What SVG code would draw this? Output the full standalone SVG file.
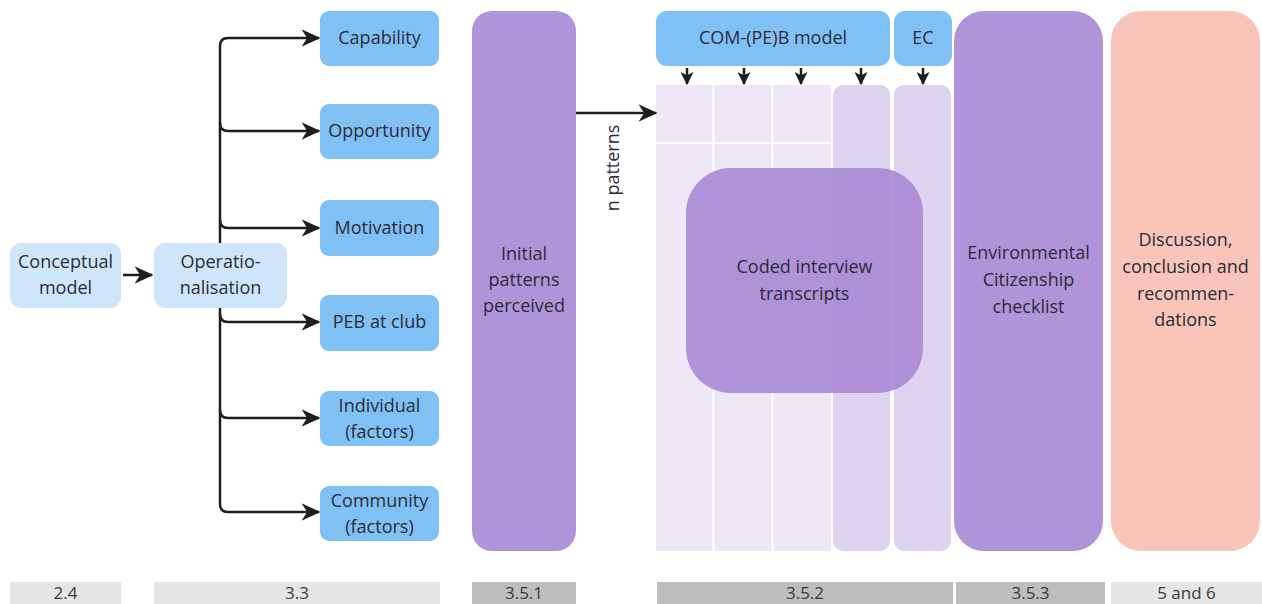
<svg xmlns="http://www.w3.org/2000/svg" width="1262" height="604" viewBox="0 0 1262 604">
  <defs>
    <style>
      text { font-family: "Open Sans", "Noto Sans", "Liberation Sans", sans-serif; font-size: 18px; fill: #2b2b38; text-anchor: middle; }
      .pale { fill: #cfe6fa; }
      .blue { fill: #80c1f5; }
      .purple { fill: #b094d9; }
      .peach { fill: #f9c5bb; }
      .cell { fill: #ede7f6; }
      .cell2 { fill: #ddd3ee; }
      .sec-light { fill: #e5e5e5; }
      .sec-dark { fill: #bdbdbd; }
      .sec { font-size: 17px; fill: #3a3a3a; }
      .edge { fill: none; stroke: #1e1e1e; stroke-width: 2.5; stroke-linejoin: round; }
    </style>
    <marker id="arrow" viewBox="0 0 12 12" refX="11" refY="6" markerWidth="19" markerHeight="19" markerUnits="userSpaceOnUse" orient="auto">
      <path d="M0,0.5 L12,6 L0,11.5 L3.5,6 z" fill="#1e1e1e"/>
    </marker>
    <marker id="arrow-s" viewBox="0 0 12 12" refX="11" refY="6" markerWidth="13" markerHeight="13" markerUnits="userSpaceOnUse" orient="auto">
      <path d="M0,0 L12,6 L0,12 L3,6 z" fill="#1e1e1e"/>
    </marker>
  </defs>

  <!-- coding grid behind the transcripts -->
  <g id="coding-grid">
    <rect class="cell" x="656" y="85" width="175" height="466"/>
    <path d="M713.5 85 V551 M772.5 85 V551 M656 143 H831" stroke="#ffffff" stroke-width="2" fill="none"/>
    <rect class="cell2" x="833" y="85" width="57" height="466" rx="10"/>
    <rect class="cell2" x="894" y="85" width="57" height="466" rx="10"/>
  </g>

  <!-- connectors -->
  <g id="connectors">
    <path class="edge" d="M123 275 H152" marker-end="url(#arrow)"/>
    <path class="edge" d="M220 250 V46 Q220 38 228 38 H319" marker-end="url(#arrow)"/>
    <path class="edge" d="M220 123 Q220 131 228 131 H319" marker-end="url(#arrow)"/>
    <path class="edge" d="M220 220 Q220 228 228 228 H319" marker-end="url(#arrow)"/>
    <path class="edge" d="M220 300 V504 Q220 512 228 512 H319" marker-end="url(#arrow)"/>
    <path class="edge" d="M220 314 Q220 322 228 322 H319" marker-end="url(#arrow)"/>
    <path class="edge" d="M220 410 Q220 418 228 418 H319" marker-end="url(#arrow)"/>
    <path class="edge" d="M576 113 H656" marker-end="url(#arrow)"/>
    <path class="edge" d="M687 68 V84" marker-end="url(#arrow-s)"/>
    <path class="edge" d="M744 68 V84" marker-end="url(#arrow-s)"/>
    <path class="edge" d="M801 68 V84" marker-end="url(#arrow-s)"/>
    <path class="edge" d="M861 68 V84" marker-end="url(#arrow-s)"/>
    <path class="edge" d="M923 68 V84" marker-end="url(#arrow-s)"/>
    <text transform="translate(619,168) rotate(-90)">n patterns</text>
  </g>

  <g id="conceptual-model">
    <rect class="pale" x="10" y="243" width="111" height="65" rx="11"/>
    <text x="65.5" y="268">Conceptual</text>
    <text x="65.5" y="294">model</text>
  </g>
  <g id="operationalisation">
    <rect class="pale" x="154" y="243" width="133" height="65" rx="11"/>
    <text x="220.5" y="268">Operatio-</text>
    <text x="220.5" y="294">nalisation</text>
  </g>

  <g id="capability">
    <rect class="blue" x="320" y="11" width="119" height="55" rx="9"/>
    <text x="379.5" y="44">Capability</text>
  </g>
  <g id="opportunity">
    <rect class="blue" x="320" y="104" width="119" height="55" rx="9"/>
    <text x="379.5" y="137">Opportunity</text>
  </g>
  <g id="motivation">
    <rect class="blue" x="320" y="200" width="119" height="56" rx="9"/>
    <text x="379.5" y="234">Motivation</text>
  </g>
  <g id="peb-at-club">
    <rect class="blue" x="320" y="295" width="119" height="56" rx="9"/>
    <text x="379.5" y="328">PEB at club</text>
  </g>
  <g id="individual">
    <rect class="blue" x="320" y="391" width="119" height="55" rx="9"/>
    <text x="379.5" y="412">Individual</text>
    <text x="379.5" y="438">(factors)</text>
  </g>
  <g id="community">
    <rect class="blue" x="320" y="486" width="119" height="55" rx="9"/>
    <text x="379.5" y="507">Community</text>
    <text x="379.5" y="533">(factors)</text>
  </g>

  <g id="initial-patterns">
    <rect class="purple" x="472" y="11" width="104" height="540" rx="20"/>
    <text x="524" y="260">Initial</text>
    <text x="524" y="286">patterns</text>
    <text x="524" y="312">perceived</text>
  </g>

  <g id="com-peb-model">
    <rect class="blue" x="656" y="11" width="234" height="55" rx="11"/>
    <text x="773" y="44">COM-(PE)B model</text>
  </g>
  <g id="ec">
    <rect class="blue" x="894" y="11" width="58" height="55" rx="11"/>
    <text x="923" y="44">EC</text>
  </g>

  <g id="coded-transcripts">
    <rect x="686" y="168" width="237" height="225" rx="45" fill="#a888d5" fill-opacity="0.9"/>
    <text x="804.5" y="273">Coded interview</text>
    <text x="804.5" y="300">transcripts</text>
  </g>

  <g id="ec-checklist">
    <rect class="purple" x="954" y="11" width="149" height="540" rx="30"/>
    <text x="1028.5" y="259">Environmental</text>
    <text x="1028.5" y="286">Citizenship</text>
    <text x="1028.5" y="313">checklist</text>
  </g>

  <g id="discussion">
    <rect class="peach" x="1111" y="11" width="149" height="540" rx="30"/>
    <text x="1185.5" y="246">Discussion,</text>
    <text x="1185.5" y="273">conclusion and</text>
    <text x="1185.5" y="300">recommen-</text>
    <text x="1185.5" y="326">dations</text>
  </g>

  <!-- section references along the bottom -->
  <g id="sections">
    <rect class="sec-light" x="10" y="582" width="111" height="22"/>
    <text class="sec" x="65.5" y="599">2.4</text>
    <rect class="sec-light" x="154" y="582" width="286" height="22"/>
    <text class="sec" x="297" y="599">3.3</text>
    <rect class="sec-dark" x="472" y="582" width="104" height="22"/>
    <text class="sec" x="524" y="599">3.5.1</text>
    <rect class="sec-dark" x="657" y="582" width="296" height="22"/>
    <text class="sec" x="805" y="599">3.5.2</text>
    <rect class="sec-dark" x="956" y="582" width="149" height="22"/>
    <text class="sec" x="1030.5" y="599">3.5.3</text>
    <rect class="sec-light" x="1111" y="582" width="151" height="22"/>
    <text class="sec" x="1186.5" y="599">5 and 6</text>
  </g>
</svg>
